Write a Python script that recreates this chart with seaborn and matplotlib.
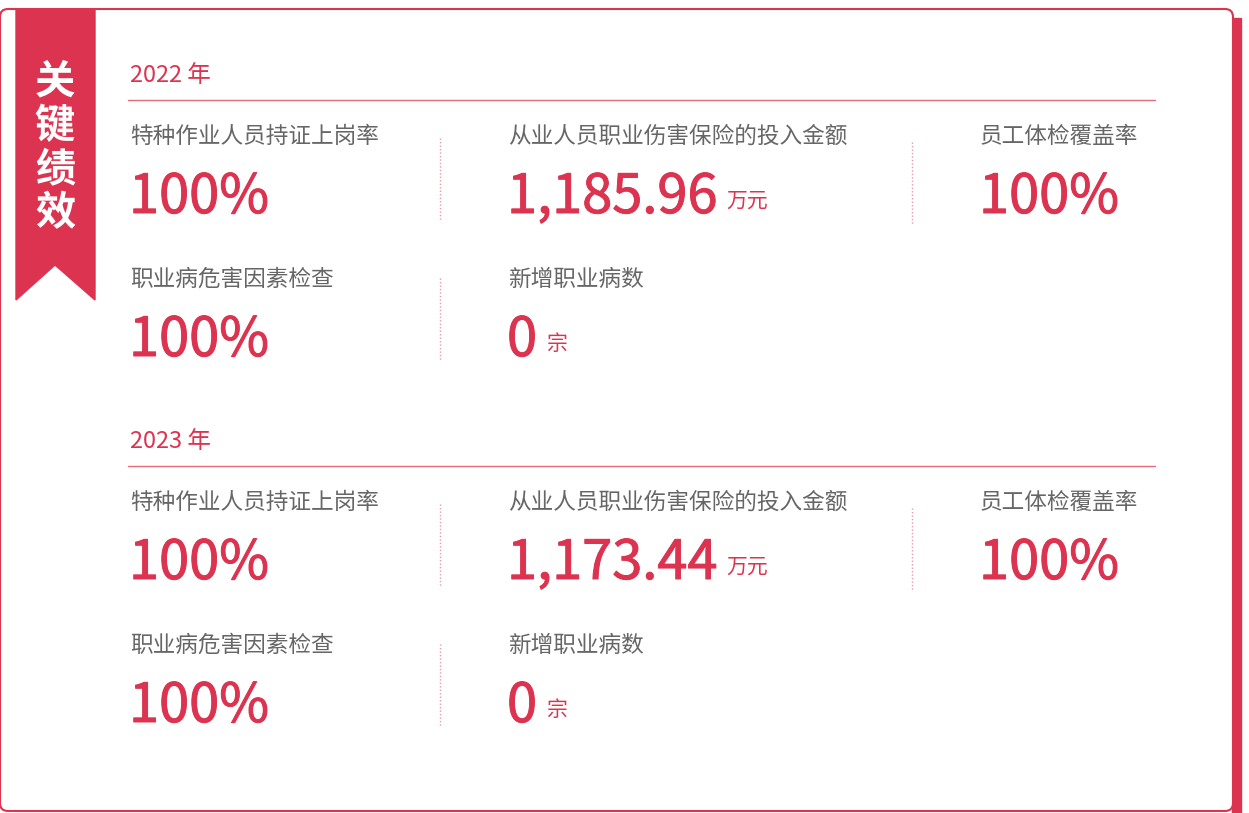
import matplotlib
matplotlib.use("Agg")
import matplotlib.pyplot as plt
import matplotlib.patheffects as pe
import seaborn as sns
from matplotlib.patches import FancyBboxPatch, Polygon, Rectangle

# dane
lata = ["2022 年", "2023 年"]
etykiety = ["特种作业人员持证上岗率", "从业人员职业伤害保险的投入金额", "员工体检覆盖率",
            "职业病危害因素检查", "新增职业病数"]
wartosci_2022 = ["100%", "1,185.96", "100%", "100%", "0"]
wartosci_2023 = ["100%", "1,173.44", "100%", "100%", "0"]
jednostki = ["", "万元", "", "", "宗"]
tytul = "关键绩效"

RED = "#dc3450"
GRAY = "#666666"
LINE = "#e66a7e"

sns.set_theme(style="white")
plt.rcParams['font.family'] = ['Noto Sans CJK SC', 'DejaVu Sans']

fig = plt.figure(figsize=(12.49, 8.13), dpi=100)
ax = fig.add_axes([0, 0, 1, 1])
ax.set_xlim(0, 1249)
ax.set_ylim(813, 0)
ax.axis("off")

# ramka karty i cien
ax.add_patch(Rectangle((1232, 18), 9, 800, color=RED, zorder=1))
ax.add_patch(FancyBboxPatch((0, 9), 1233, 802, boxstyle="round,pad=0,rounding_size=8",
                            facecolor="white", edgecolor=RED, lw=1.5, zorder=2))

# wstazka
ax.add_patch(Polygon([(16, 9), (95, 9), (95, 300), (55, 265), (16, 300)],
                     closed=True, color=RED, zorder=3))
for i, znak in enumerate(tytul):
    ax.text(55, 82 + i * 44, znak, color="white", fontsize=29, fontweight="bold",
            ha="center", va="center", zorder=4)

kolumny_x = [130, 508, 980, 130, 508]
wiersze_y = [0, 0, 0, 143, 143]
separatory = [(440, 138, 220), (912, 142, 225), (440, 278, 360)]

fig.canvas.draw()
renderer = fig.canvas.get_renderer()

for b, (rok, wartosci) in enumerate(zip(lata, [wartosci_2022, wartosci_2023])):
    dy = b * 366
    ax.text(130, 75 + dy, rok, color=RED, fontsize=17, ha="left", va="center", zorder=4)
    ax.plot([128, 1155], [100 + dy, 100 + dy], color=LINE, lw=1, zorder=4)
    for x, y0, y1 in separatory:
        ax.plot([x, x], [y0 + dy, y1 + dy], color="#e89aa6", lw=1,
                linestyle=(0, (1, 1.5)), zorder=4)
    for k in range(len(etykiety)):
        x = kolumny_x[k]
        y = wiersze_y[k] + dy
        ax.text(x, 136 + y, etykiety[k], color=GRAY, fontsize=16.3, ha="left",
                va="center", zorder=4)
        t = ax.text(x - 1, 213 + y, wartosci[k], color=RED, fontsize=39,
                    ha="left", va="baseline", zorder=4,
                    path_effects=[pe.withStroke(linewidth=0.7, foreground=RED)])
        if jednostki[k]:
            bb = t.get_window_extent(renderer=renderer)
            ax.text(bb.x1 + 9, 207 + y, jednostki[k], color=RED, fontsize=15,
                    ha="left", va="baseline", zorder=4)

fig.savefig("out.png", dpi=100, facecolor="white")
